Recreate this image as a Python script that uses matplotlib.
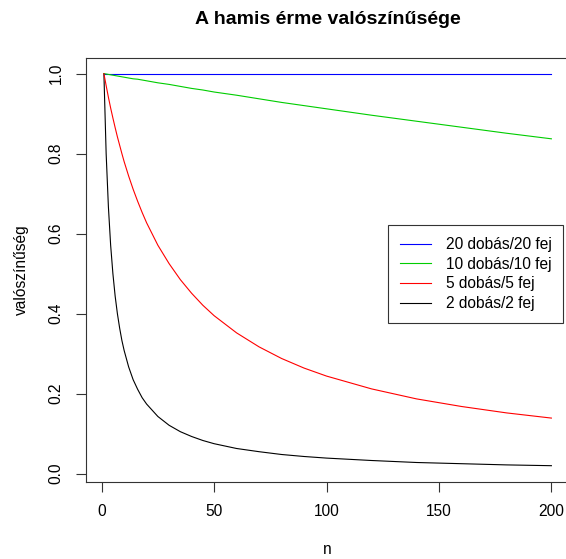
import numpy as np
import matplotlib
matplotlib.use('Agg')
import matplotlib.pyplot as plt

plt.rcParams['font.family'] = ['Liberation Sans', 'DejaVu Sans']

# number of coins n
n = [1, 2, 3, 4, 5, 6, 7, 8, 9, 10, 12, 14, 16, 18, 20, 25, 30, 35, 40, 45,
     50, 60, 70, 80, 90, 100, 120, 140, 160, 180, 200]

p20 = [1.000] * len(n)
p10 = [1.000, 0.999, 0.998, 0.997, 0.996, 0.995, 0.994, 0.993, 0.992, 0.991,
       0.989, 0.987, 0.986, 0.984, 0.982, 0.977, 0.973, 0.968, 0.963, 0.959,
       0.954, 0.946, 0.937, 0.928, 0.920, 0.912, 0.896, 0.881, 0.866, 0.851, 0.837]
p5 = [1.000, 0.970, 0.941, 0.914, 0.889, 0.865, 0.842, 0.821, 0.800, 0.780,
      0.744, 0.711, 0.681, 0.653, 0.627, 0.571, 0.525, 0.485, 0.451, 0.421,
      0.395, 0.352, 0.317, 0.288, 0.264, 0.244, 0.212, 0.187, 0.168, 0.152, 0.139]
p2 = [1.000, 0.800, 0.667, 0.571, 0.500, 0.444, 0.400, 0.364, 0.333, 0.308,
      0.267, 0.235, 0.211, 0.190, 0.174, 0.143, 0.121, 0.105, 0.093, 0.083,
      0.075, 0.063, 0.055, 0.048, 0.043, 0.039, 0.033, 0.028, 0.025, 0.022, 0.020]

labels = ['20 dobás/20 fej', '10 dobás/10 fej', '5 dobás/5 fej', '2 dobás/2 fej']
colors = ['#0000FF', '#00CD00', '#FF0000', '#000000']

fig = plt.figure(figsize=(5.66, 5.59), dpi=100)
ax = fig.add_axes([86/566, 1 - 481.5/559, (569.3 - 86)/566, (481.5 - 58)/559])

ax.plot(n, p2, color=colors[3], lw=0.8)
ax.plot(n, p20, color=colors[0], lw=0.8)
ax.plot(n, p10, color=colors[1], lw=0.8)
ax.plot(n, p5, color=colors[2], lw=0.8)

ax.set_xlim(-6.96, 207.96)
ax.set_ylim(-0.0195, 1.039)
ax.set_xticks([0, 50, 100, 150, 200])
ax.set_yticks([0.0, 0.2, 0.4, 0.6, 0.8, 1.0])
ax.set_yticklabels(['0.0', '0.2', '0.4', '0.6', '0.8', '1.0'], rotation=90, va='center')
ax.tick_params(direction='out', length=7, width=0.8, labelsize=11.2, pad=9,
               colors='#333333', labelcolor='black')
for s in ax.spines.values():
    s.set_linewidth(0.8)
    s.set_color('#333333')

ax.set_xlabel('n', fontsize=11.2, labelpad=17)
ax.set_ylabel('valószínűség', fontsize=11.2, labelpad=14)
fig.text(327.7/566, 1 - 19/559, 'A hamis érme valószínűsége', ha='center', va='center',
         fontsize=14, fontweight='bold')

handles = [plt.Line2D([], [], color=c, lw=0.8) for c in colors]
leg = fig.legend(handles, labels, loc='upper right',
                 bbox_to_anchor=(563.3/566, 1 - 225.3/559),
                 fontsize=11.2, frameon=True, fancybox=False, edgecolor='#333333',
                 framealpha=1, handlelength=2.0, handletextpad=0.95,
                 labelspacing=0.3, borderpad=0.75, borderaxespad=0)
leg.get_frame().set_linewidth(0.8)

fig.savefig('out.png', dpi=100)
